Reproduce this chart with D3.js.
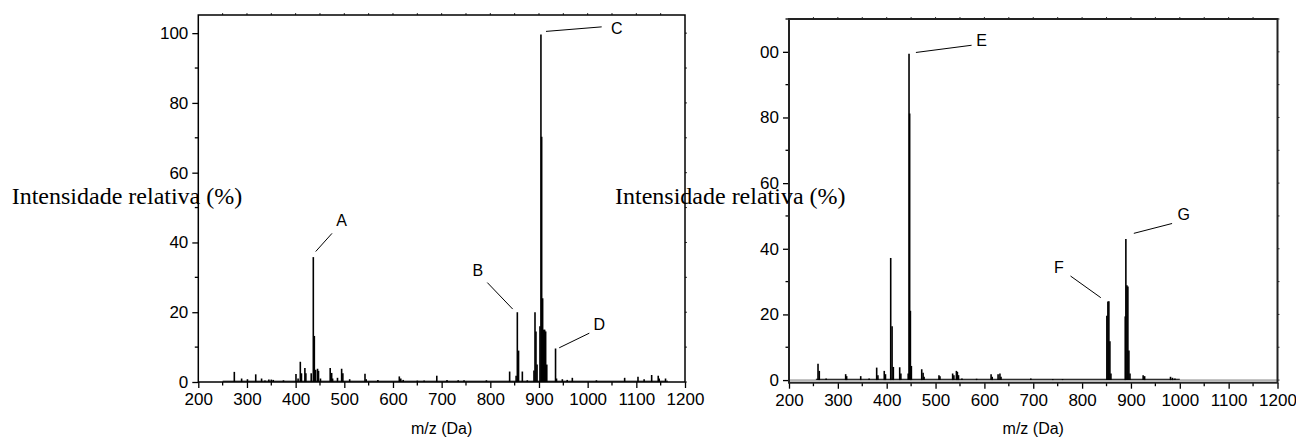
<!DOCTYPE html>
<html>
<head>
<meta charset="utf-8">
<script src="https://cdn.jsdelivr.net/npm/d3@7"></script>
<style>
  body { margin: 0; background: #fff; }
  svg { display: block; }
</style>
</head>
<body>
<svg id="chart" width="1296" height="439"></svg>
<script>
// ---- data: left spectrum (m/z, relative intensity %) ----
var leftMz = [274, 289, 301, 318, 330, 337, 345, 350, 354, 375, 400.7, 405, 409.6, 412, 419, 421,
    432, 436.3, 438.4, 441, 445, 447, 451, 471, 474, 476, 486, 494.5, 497, 511,
    542.5, 545, 569, 613, 616, 621, 650, 664, 690, 711, 734, 746, 792, 839.7, 853, 855.5, 858,
    865.8, 876, 889.7, 891.8, 893.8, 896, 902, 904, 905.5, 907.5, 909.6, 911.6, 913.7, 916,
    934, 936, 948, 958, 968.5, 1018, 1076, 1103.4, 1116, 1131.5, 1145, 1147, 1160];
var leftInt = [2.9, 1, 0.8, 2.2, 1, 0.4, 0.7, 0.7, 0.6, 0.5, 2.3, 1, 5.8, 2.5, 4, 2.5,
    2.5, 35.8, 13.2, 3.5, 3.8, 3.2, 1, 4, 2.6, 1, 1.2, 3.8, 2.5, 0.8,
    2.4, 0.8, 0.6, 1.6, 1, 0.6, 0.4, 0.4, 1.8, 0.6, 0.5, 0.5, 0.5, 3, 1.8, 20, 9,
    3, 0.5, 3.3, 20, 14.5, 5, 16, 99.6, 70.3, 24, 15, 15, 14.5, 5,
    9.6, 1, 0.8, 0.6, 1.2, 0.5, 1.2, 1.5, 0.8, 2, 1.8, 1, 1];

// ---- data: right spectrum ----
var rightMz = [259.4, 262, 276, 316, 318, 346.8, 364, 379.5, 382, 395, 397.5, 408.2, 411, 413.6,
    426.6, 429, 444, 445.7, 447, 448.5, 450.5, 471.7, 474.5, 476.5, 507, 509, 535, 537.5,
    542.7, 544.7, 547, 554, 584, 613.7, 616, 628, 631.8, 634, 695, 740, 760,
    850.7, 852.8, 854.8, 856.9, 859, 888.3, 889.6, 891.7, 893.7, 895.8, 898, 925, 928,
    981, 985, 990];
var rightInt = [5, 2.8, 0.5, 1.8, 1.2, 1.2, 0.5, 3.8, 1.5, 2.8, 1.8, 37.2, 16.4, 4,
    3.9, 2, 2, 99.4, 81.2, 21.1, 4.3, 3.3, 2.2, 1, 1.5, 1.2, 2, 1.5,
    2.8, 2.5, 1.5, 0.5, 0.4, 1.8, 1, 1.8, 2, 1, 0.5, 0.3, 0.3,
    19.6, 23.9, 24, 11.8, 2, 19.4, 43, 28.9, 28.5, 9, 2, 1.5, 1.2,
    1, 0.7, 0.5];

// ---- tick labels ----
var xTickValues = [200, 300, 400, 500, 600, 700, 800, 900, 1000, 1100, 1200];
var leftYTickValues = [0, 20, 40, 60, 80, 100];
var leftYTickLabels = ["0", "20", "40", "60", "80", "100"];
var rightYTickValues = [0, 20, 40, 60, 80, 100];
var rightYTickLabels = ["0", "20", "40", "60", "80", "00"];

// ---- annotations: label, text pos, leader line start/end (data units) ----
var leftNotes = [
    { label: "A", tx: 494.6, ty: 46.3, x1: 441.2, y1: 37.4, x2: 474.7, y2: 42.6 },
    { label: "B", tx: 774.1, ty: 31.9, x1: 793.8, y1: 28.5, x2: 846.0, y2: 20.9 },
    { label: "C", tx: 1059.7, ty: 101.4, x1: 914.4, y1: 100.5, x2: 1028.8, y2: 101.8 },
    { label: "D", tx: 1023.9, ty: 16.5, x1: 941.5, y1: 9.8, x2: 1003.4, y2: 14.0 }
];
var rightNotes = [
    { label: "E", tx: 594.3, ty: 103.6, x1: 459.8, y1: 99.8, x2: 573.8, y2: 102.0 },
    { label: "F", tx: 752.4, ty: 34.5, x1: 776.3, y1: 31.7, x2: 838.3, y2: 25.1 },
    { label: "G", tx: 1008.2, ty: 50.6, x1: 905.9, y1: 44.7, x2: 984.2, y2: 47.7 }
];

var svg = d3.select("#chart");
var SANS = "Liberation Sans, Arial, sans-serif";
var SERIF = "Liberation Serif, Times New Roman, serif";

function drawPanel(p) {
    var x = d3.scaleLinear().domain([200, 1200]).range([p.left, p.right]);
    var y = d3.scaleLinear().domain(p.yDomain).range([p.bottom, p.top]);
    var g = svg.append("g");

    // zero line (only right panel shows it above the axis)
    if (p.zeroLine) {
        g.append("line")
            .attr("x1", p.left).attr("x2", p.right)
            .attr("y1", y(0)).attr("y2", y(0))
            .attr("stroke", "#777").attr("stroke-width", 1);
    }

    // spectrum sticks
    var pts = d3.zip(p.mz, p.inten);
    g.append("g").selectAll("line")
        .data(pts)
        .enter()
        .append("line")
        .attr("x1", function(d) { return x(d[0]); })
        .attr("x2", function(d) { return x(d[0]); })
        .attr("y1", y(0))
        .attr("y2", function(d) { return y(d[1]); })
        .attr("stroke", "#000")
        .attr("stroke-width", 1.6);

    // baseline noise trace
    g.append("line")
        .attr("x1", x(p.noise[0])).attr("x2", x(p.noise[1]))
        .attr("y1", y(0) - 0.8).attr("y2", y(0) - 0.8)
        .attr("stroke", "#000").attr("stroke-width", 1);

    // bottom axis
    var xAxis = d3.axisBottom(x).tickValues(xTickValues).tickFormat(d3.format("d"))
        .tickSize(6).tickSizeOuter(0).tickPadding(5);
    var ax = g.append("g").attr("transform", "translate(0," + p.bottom + ")").call(xAxis);
    ax.select(".domain").remove();
    ax.selectAll("text").attr("font-family", SANS).attr("font-size", 17).attr("fill", "#000");
    ax.selectAll("line").attr("stroke", "#000").attr("stroke-width", 1.3);
    var xMinor = d3.range(250, 1200, 100);
    g.append("g").selectAll("line").data(xMinor).enter().append("line")
        .attr("x1", function(d) { return x(d); }).attr("x2", function(d) { return x(d); })
        .attr("y1", p.bottom).attr("y2", p.bottom + 3.5)
        .attr("stroke", "#000").attr("stroke-width", 1.3);

    // left axis
    var yAxis = d3.axisLeft(y).tickValues(p.yTicks)
        .tickFormat(function(d, i) { return p.yLabels[i]; })
        .tickSize(6).tickSizeOuter(0).tickPadding(4);
    var ay = g.append("g").attr("transform", "translate(" + p.left + ",0)").call(yAxis);
    ay.select(".domain").remove();
    ay.selectAll("text").attr("font-family", SANS).attr("font-size", 17).attr("fill", "#000");
    ay.selectAll("line").attr("stroke", "#000").attr("stroke-width", 1.3);
    g.append("g").selectAll("line").data(p.yMinor).enter().append("line")
        .attr("x1", p.left - 3.5).attr("x2", p.left)
        .attr("y1", function(d) { return y(d); }).attr("y2", function(d) { return y(d); })
        .attr("stroke", "#000").attr("stroke-width", 1.3);

    // mirror ticks on top and right
    var topTicks = d3.range(250, 1200, 50);
    g.append("g").selectAll("line").data(topTicks).enter().append("line")
        .attr("x1", function(d) { return x(d); }).attr("x2", function(d) { return x(d); })
        .attr("y1", p.top).attr("y2", p.top - 2)
        .attr("stroke", "#333").attr("stroke-width", 1);
    g.append("g").selectAll("line").data(p.yTicks.concat(p.yMinor)).enter().append("line")
        .attr("x1", p.right).attr("x2", p.right + 2)
        .attr("y1", function(d) { return y(d); }).attr("y2", function(d) { return y(d); })
        .attr("stroke", "#333").attr("stroke-width", 1);

    // frame
    g.append("rect")
        .attr("x", p.left).attr("y", p.top)
        .attr("width", p.right - p.left).attr("height", p.bottom - p.top)
        .attr("fill", "none").attr("stroke", p.frameColor).attr("stroke-width", p.frameWidth);

    // annotations
    var notes = g.append("g").selectAll("g").data(p.notes).enter().append("g");
    notes.append("line")
        .attr("x1", function(d) { return x(d.x1); }).attr("y1", function(d) { return y(d.y1); })
        .attr("x2", function(d) { return x(d.x2); }).attr("y2", function(d) { return y(d.y2); })
        .attr("stroke", "#000").attr("stroke-width", 1);
    notes.append("text")
        .attr("x", function(d) { return x(d.tx); })
        .attr("y", function(d) { return y(d.ty); })
        .attr("dy", "0.36em")
        .attr("text-anchor", "middle")
        .attr("font-family", SANS).attr("font-size", 16)
        .text(function(d) { return d.label; });

    // axis titles
    g.append("text")
        .attr("x", (p.left + p.right) / 2).attr("y", 434)
        .attr("text-anchor", "middle")
        .attr("font-family", SANS).attr("font-size", 16)
        .text("m/z (Da)");
    g.append("text")
        .attr("x", p.titleX).attr("y", 204)
        .attr("font-family", SERIF).attr("font-size", 24)
        .text("Intensidade relativa (%)");
}

drawPanel({
    left: 198.3, right: 685, top: 15, bottom: 382,
    yDomain: [0, 105.2],
    yTicks: leftYTickValues, yLabels: leftYTickLabels,
    yMinor: [10, 30, 50, 70, 90],
    mz: leftMz, inten: leftInt, noise: [250, 1165],
    notes: leftNotes, zeroLine: false,
    frameColor: "#000", frameWidth: 1.5, titleX: 11.7
});

drawPanel({
    left: 789, right: 1277.5, top: 19, bottom: 382.7,
    yDomain: [-0.8, 110],
    yTicks: rightYTickValues, yLabels: rightYTickLabels,
    yMinor: [10, 30, 50, 70, 90, 110],
    mz: rightMz, inten: rightInt, noise: [255, 1000],
    notes: rightNotes, zeroLine: true,
    frameColor: "#222", frameWidth: 2, titleX: 615
});
</script>
</body>
</html>
